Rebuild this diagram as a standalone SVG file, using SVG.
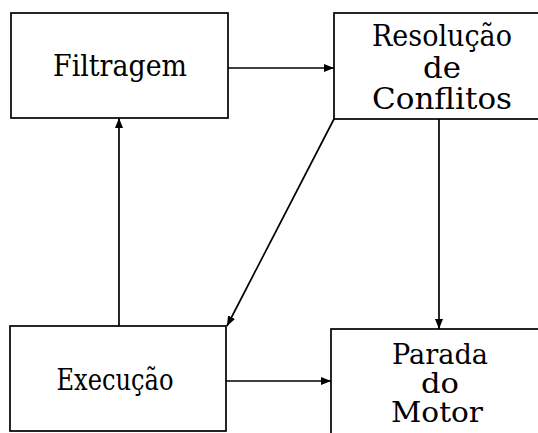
<svg xmlns="http://www.w3.org/2000/svg" width="538" height="433" viewBox="0 0 538 433">
  <defs>
    <marker id="arrow" viewBox="0 0 10 8" refX="10" refY="4" markerWidth="10" markerHeight="8" markerUnits="userSpaceOnUse" orient="auto">
      <path d="M0,0 L10,4 L0,8 Z" fill="#000"/>
    </marker>
  </defs>
  <style>
    .box { fill: #fff; stroke: #000; stroke-width: 1.7; }
    .lbl { font-family: "DejaVu Serif", "Liberation Serif", serif; font-size: 29px; fill: #000; text-anchor: middle; }
    .tight { font-size: 27px; }
    .edge { fill: none; stroke: #000; stroke-width: 1.7; marker-end: url(#arrow); }
  </style>
  <rect width="538" height="433" fill="#fff"/>

  <g id="filtragem">
    <rect class="box" x="11" y="13" width="217" height="105"/>
    <text class="lbl" x="120" y="76" textLength="134" lengthAdjust="spacingAndGlyphs">Filtragem</text>
  </g>

  <g id="resolucao">
    <rect class="box" x="334" y="13" width="210" height="106"/>
    <text class="lbl" x="442" y="46" textLength="140" lengthAdjust="spacingAndGlyphs">Resolução</text>
    <text class="lbl" x="442" y="78" textLength="38" lengthAdjust="spacingAndGlyphs">de</text>
    <text class="lbl" x="442" y="109" textLength="140" lengthAdjust="spacingAndGlyphs">Conflitos</text>
  </g>

  <g id="execucao">
    <rect class="box" x="10" y="326" width="216" height="105"/>
    <text class="lbl" x="115" y="390" textLength="117" lengthAdjust="spacingAndGlyphs">Execução</text>
  </g>

  <g id="parada">
    <rect class="box" x="331" y="329" width="213" height="110"/>
    <text class="lbl tight" x="440" y="364" textLength="96" lengthAdjust="spacingAndGlyphs">Parada</text>
    <text class="lbl tight" x="440" y="393" textLength="38" lengthAdjust="spacingAndGlyphs">do</text>
    <text class="lbl tight" x="437" y="422" textLength="92" lengthAdjust="spacingAndGlyphs">Motor</text>
  </g>

  <g id="connectors">
    <line class="edge" x1="228" y1="68" x2="334" y2="68"/>
    <line class="edge" x1="119" y1="326" x2="119" y2="118"/>
    <line class="edge" x1="334" y1="119" x2="227" y2="326"/>
    <line class="edge" x1="439" y1="119" x2="439" y2="329"/>
    <line class="edge" x1="226" y1="381" x2="331" y2="381"/>
  </g>
</svg>
